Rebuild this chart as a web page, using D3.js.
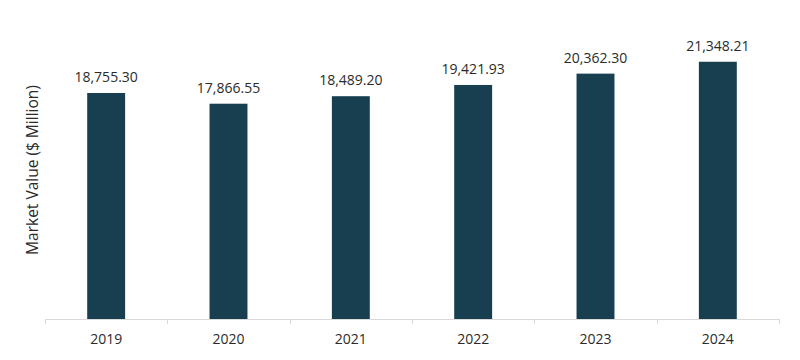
<!DOCTYPE html>
<html><head><meta charset="utf-8">
<script src="https://cdn.jsdelivr.net/npm/d3@7"></script>
<style>body{margin:0;background:#fff}svg{display:block}</style>
</head><body><svg id="c" width="800" height="360"></svg>
<script>
const categories = ["2019","2020","2021","2022","2023","2024"];
const values = [18755.30, 17866.55, 18489.20, 19421.93, 20362.30, 21348.21];
const valueLabels = ["18,755.30","17,866.55","18,489.20","19,421.93","20,362.30","21,348.21"];
const yTitle = "Market Value ($ Million)";

const svg = d3.select("#c");
const left = 45, right = 779, bottom = 319;
const x = d3.scaleBand().domain(categories).range([left, right]).padding(0);
const y = d3.scaleLinear().domain([0, 25000]).range([bottom, bottom - 301.25]);
const bw = x.bandwidth() * 0.31;
const font = "'Open Sans', sans-serif";

svg.selectAll("rect.bar").data(categories).enter().append("rect")
  .attr("class","bar")
  .attr("x", d => x(d) + x.bandwidth()/2 - bw/2)
  .attr("width", bw)
  .attr("y", (d,i) => y(values[i]))
  .attr("height", (d,i) => y(0) - y(values[i]))
  .attr("fill", "#173f4f");

svg.selectAll("text.val").data(categories).enter().append("text")
  .attr("class","val")
  .attr("x", d => x(d) + x.bandwidth()/2)
  .attr("y", (d,i) => y(values[i]) - 11)
  .attr("text-anchor","middle")
  .attr("font-family", font).attr("font-size", 14).attr("fill", "#2b2b2b")
  .text((d,i) => valueLabels[i]);

// axis
const g = svg.append("g");
g.append("line").attr("x1", left).attr("x2", right).attr("y1", bottom+0.5).attr("y2", bottom+0.5)
  .attr("stroke", "#d9d9d9").attr("stroke-width", 1);
const bounds = categories.map(d => x(d)).concat([right]);
g.selectAll("line.tk").data(bounds).enter().append("line")
  .attr("class","tk")
  .attr("x1", d => Math.round(d)+0.5).attr("x2", d => Math.round(d)+0.5)
  .attr("y1", bottom).attr("y2", bottom+5)
  .attr("stroke", "#d9d9d9");
g.selectAll("text.cat").data(categories).enter().append("text")
  .attr("class","cat")
  .attr("x", d => x(d) + x.bandwidth()/2)
  .attr("y", 344)
  .attr("text-anchor","middle")
  .attr("font-family", font).attr("font-size", 14).attr("fill", "#2b2b2b")
  .text(d => d);

svg.append("text")
  .attr("transform", "translate(38,170) rotate(-90)")
  .attr("text-anchor","middle")
  .attr("font-family", font).attr("font-size", 15.5).attr("fill", "#2b2b2b")
  .text(yTitle);
</script></body></html>
